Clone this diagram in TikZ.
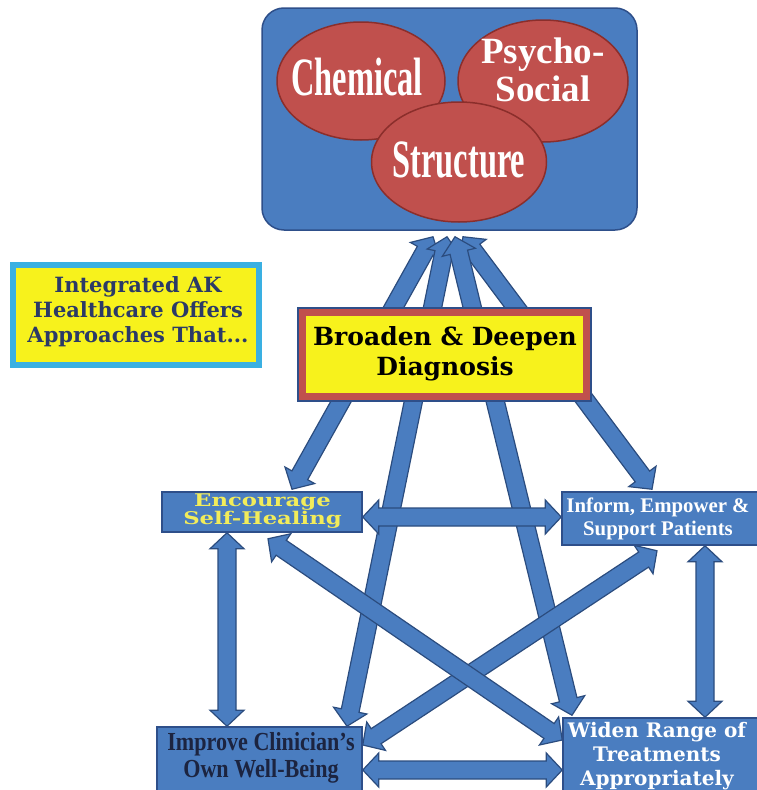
\documentclass[tikz,border=0pt]{standalone}
\usepackage{fontspec}
\setmainfont{Liberation Serif}
\newfontfamily\condA[FakeStretch=0.6]{Liberation Serif}
\newfontfamily\condB[FakeStretch=0.85]{Liberation Serif}
\newfontfamily\dvs{DejaVu Serif}
\newfontfamily\dvswide[FakeStretch=1.3]{DejaVu Serif}
\usetikzlibrary{shapes.geometric,calc}
\definecolor{boxblue}{HTML}{4A7DC0}
\definecolor{boxline}{HTML}{2E4F8A}
\definecolor{arrline}{HTML}{2B4C7E}
\definecolor{ellred}{HTML}{C0504D}
\definecolor{ellline}{HTML}{8B2E2B}
\definecolor{yel}{HTML}{F7F21C}
\definecolor{cyanb}{HTML}{3AB0E2}
\definecolor{navytxt}{HTML}{2B3A67}
\definecolor{darktxt}{HTML}{1C2440}
\definecolor{enctxt}{HTML}{F2EC5A}
\pgfdeclarelayer{back}
\pgfdeclarelayer{mid}
\pgfsetlayers{back,mid,main}
\newcommand{\blockarr}[2]{%
  \path[barrow] (#1)
   -- ($(#1)!16pt!(#2)!17pt!90:(#2)$)
   -- ($(#1)!16pt!(#2)!9pt!90:(#2)$)
   -- ($(#2)!16pt!(#1)!9pt!-90:(#1)$)
   -- ($(#2)!16pt!(#1)!17pt!-90:(#1)$)
   -- (#2)
   -- ($(#2)!16pt!(#1)!17pt!90:(#1)$)
   -- ($(#2)!16pt!(#1)!9pt!90:(#1)$)
   -- ($(#1)!16pt!(#2)!9pt!-90:(#2)$)
   -- ($(#1)!16pt!(#2)!17pt!-90:(#2)$)
   -- cycle;}
\tikzset{
  bluebox/.style={rectangle, fill=boxblue, draw=boxline, line width=1.5pt, inner sep=0pt},
  ell/.style={ellipse, fill=ellred, draw=ellline, line width=1.5pt, inner sep=0pt},
  lbl/.style={align=center, inner sep=0pt},
  barrow/.style={fill=boxblue, draw=arrline, line width=1.2pt, line join=miter},
}
\begin{document}
\begin{tikzpicture}[x=1pt,y=-1pt]
\useasboundingbox (0,0) rectangle (756,790);

% top group
\begin{pgfonlayer}{back}
\node[bluebox, rounded corners=22pt, minimum width=375pt, minimum height=222pt] (top) at (449.5,119) {};
\node[ell, minimum width=168pt, minimum height=118pt] (chem) at (361,81) {};
\node[ell, minimum width=170pt, minimum height=122pt] (psy) at (543,81) {};
\node[ell, minimum width=175pt, minimum height=120pt] (str) at (459,162) {};
\node[lbl, anchor=base, text=white, font=\condA\bfseries\fontsize{54}{60}\selectfont] (chemt) at (357,95) {Chemical};
\node[lbl, text=white, font=\bfseries\fontsize{37}{38}\selectfont] (psyt) at (543,70) {Psycho-\\Social};
\node[lbl, anchor=base, text=white, font=\condA\bfseries\fontsize{54}{60}\selectfont] (strt) at (459,177) {Structure};
\end{pgfonlayer}

% boxes
\node[bluebox, minimum width=200pt, minimum height=40pt] (enc) at (262,512) {};
\node[bluebox, minimum width=202pt, minimum height=53pt] (inf) at (663,518.5) {};
\node[bluebox, minimum width=205pt, minimum height=73pt] (imp) at (259.5,763.5) {};
\node[bluebox, minimum width=201pt, minimum height=82pt] (wid) at (663.5,759) {};

\node[lbl, text=enctxt, font=\dvswide\bfseries\fontsize{17.5}{18}\selectfont] (enct) at (262.5,511.5) {Encourage\\Self-Healing};
\node[lbl, text=white, font=\bfseries\fontsize{20.8}{23}\selectfont] (inft) at (658,519) {Inform, Empower \&\\Support Patients};
\node[lbl, text=darktxt, font=\condB\bfseries\fontsize{26}{27}\selectfont] (impt) at (261,758) {Improve Clinician’s\\Own Well-Being};
\node[lbl, text=white, font=\dvs\bfseries\fontsize{20}{24}\selectfont] (widt) at (657,756) {Widen Range of\\Treatments\\Appropriately};

% integrated
\node[rectangle, fill=yel, draw=cyanb, line width=6pt, minimum width=246pt, minimum height=100pt] (integ) at (136,315) {};
\node[lbl, text=navytxt, font=\dvs\bfseries\fontsize{21}{25}\selectfont] (integt) at (138,311.5) {Integrated AK\\Healthcare Offers\\Approaches That...};

% broaden
\node[rectangle, fill=yel, draw=ellred, line width=8pt, minimum width=285pt, minimum height=85pt] (broad) at (444.5,354.5) {};
\draw[boxline, line width=2pt] (broad.north west) rectangle (broad.south east);
\node[lbl, text=black, font=\dvs\bfseries\fontsize{25}{30}\selectfont] (broadt) at (445,354) {Broaden \& Deepen\\Diagnosis};

% arrow end points
\coordinate (a1s) at ($(top.south)+(-16.5,6)$);
\coordinate (a1e) at ($(enc.north)+(30,-2)$);
\coordinate (a2s) at ($(top.south)+(13.5,6)$);
\coordinate (a2e) at ($(inf.north)+(-11,-2)$);
\coordinate (a3s) at ($(top.south)+(-2.5,6)$);
\coordinate (a3e) at ($(imp.north)+(87.5,0)$);
\coordinate (a4s) at ($(top.south)+(5.5,6)$);
\coordinate (a4e) at ($(wid.north)+(-91.5,-2)$);
\coordinate (a5s) at ($(enc.east)+(0,5)$);
\coordinate (a5e) at ($(inf.west)+(0,-1.5)$);
\coordinate (a6s) at ($(enc.south)+(-35,0)$);
\coordinate (a6e) at ($(imp.north)+(-32.5,0)$);
\coordinate (a7s) at ($(inf.south)+(42,0)$);
\coordinate (a7e) at ($(wid.north)+(41.5,0)$);
\coordinate (a8s) at ($(imp.east)+(0,6.5)$);
\coordinate (a8e) at ($(wid.west)+(0,11)$);
\coordinate (a9s) at ($(enc.south)+(6,6)$);
\coordinate (a9e) at ($(wid.west)+(0,-19)$);
\coordinate (a10s) at ($(inf.south)+(-6,5)$);
\coordinate (a10e) at ($(imp.east)+(0,-18.5)$);

\begin{pgfonlayer}{mid}
\blockarr{a1s}{a1e}
\blockarr{a2s}{a2e}
\blockarr{a3s}{a3e}
\blockarr{a4s}{a4e}
\blockarr{a10s}{a10e}
\blockarr{a9s}{a9e}
\blockarr{a5s}{a5e}
\blockarr{a6s}{a6e}
\blockarr{a7s}{a7e}
\blockarr{a8s}{a8e}
\end{pgfonlayer}
\end{tikzpicture}
\end{document}
